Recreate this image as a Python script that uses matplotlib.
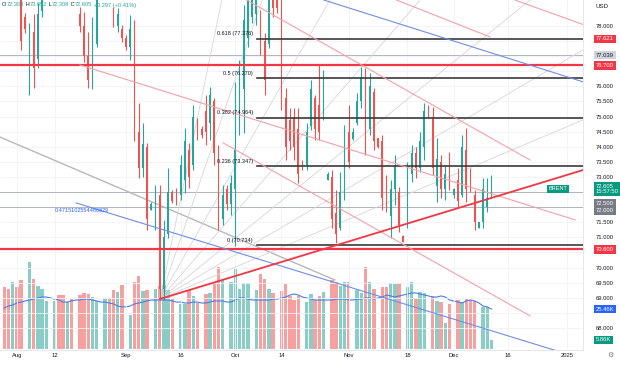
import numpy as np
import pandas as pd
import matplotlib
matplotlib.use("Agg")
import matplotlib.pyplot as plt
import matplotlib.transforms as mtransforms

# daily bars (Mon-Fri plus the short Sunday session), 29 Jul - 11 Dec 2024
days = pd.date_range("2024-07-29", "2025-01-05", freq="D")
days = days[days.dayofweek != 5]

opens = [80.6, 79.8, 79.2, 80.7, 79.6, 78.3,
         76.6, 77.8, 76.9, 78.5, 79.1, 79.7,
         79.8, 81.9, 80.6, 79.7, 81.0, 79.6,
         78.4, 78.0, 77.0, 76.2, 77.4, 79.0,
         79.2, 81.2, 78.5, 78.0, 77.9, 77.6,
         77.3, 77.9, 74.5, 73.3, 74.0, 71.9,
         71.5, 72.4, 69.3, 71.1, 72.5, 72.4,
         72.4, 72.9, 73.9, 73.4, 74.8, 74.6,
         75.2, 74.8, 75.5, 73.8, 71.6, 72.6,
         72.1, 72.6, 74.6, 75.9, 77.6, 78.3,
         78.4, 78.4, 77.5, 77.4, 79.1, 78.9,
         78.6, 75.6, 74.9, 75.0, 74.6, 73.5,
         73.4, 74.7, 75.6, 75.4, 75.0, 72.9,
         73.0, 71.8, 71.3, 72.5, 74.5, 74.25,
         74.8, 75.5, 76.3, 74.6, 75.8, 74.3,
         74.2, 72.9, 71.7, 72.6, 72.5, 71.06,
         71.4, 73.1, 73.8, 73.3, 74.0, 75.3,
         75.0, 72.7, 73.5, 72.6, 73.4, 72.4,
         72.9, 72.4, 73.9, 73.1, 72.4, 71.32,
         71.5, 72.0, 72.308]
highs = [80.9, 80.0, 81.0, 81.2, 79.9, 78.42,
         78.1, 78.4, 78.76, 79.3, 80.0, 79.9,
         82.1, 82.0, 80.9, 81.3, 81.1, 79.7,
         78.63, 78.46, 77.8, 78.3, 79.2, 79.3,
         81.5, 81.4, 78.63, 78.6, 78.03, 77.7,
         78.36, 78.2, 75.45, 74.79, 74.13, 72.17,
         72.74, 72.74, 71.58, 73.3, 72.57, 72.64,
         73.73, 74.62, 74.13, 75.38, 74.95, 74.7,
         75.72, 75.98, 75.62, 74.06, 72.74, 72.74,
         73.07, 76.15, 76.87, 78.7, 79.2, 79.3,
         81.0, 78.53, 77.77, 79.5, 79.5, 79.0,
         78.95, 75.95, 75.28, 75.28, 75.28, 73.56,
         74.79, 76.21, 75.72, 76.71, 76.54, 73.17,
         73.23, 72.57, 73.17, 74.72, 75.39, 74.62,
         75.78, 76.64, 76.61, 76.44, 75.95, 74.3,
         74.39, 73.07, 72.9, 73.73, 72.67, 71.08,
         73.5, 74.06, 73.99, 74.49, 75.45, 75.39,
         75.32, 74.29, 73.73, 73.4, 73.83, 72.64,
         73.3, 74.39, 74.62, 73.3, 72.57, 71.51,
         72.97, 72.97, 73.052]
lows = [79.5, 79.0, 79.0, 79.3, 77.2, 77.77,
        75.7, 75.95, 76.6, 78.3, 78.95, 79.6,
        79.6, 80.3, 79.4, 79.3, 79.4, 79.3,
        77.8, 76.8, 75.95, 75.9, 77.3, 78.95,
        79.0, 79.3, 77.97, 77.8, 77.47, 77.2,
        76.87, 74.2, 72.97, 73.0, 71.25, 71.91,
        71.25, 68.93, 68.93, 70.98, 72.14, 72.07,
        72.24, 72.47, 72.64, 73.23, 74.23, 74.3,
        74.06, 74.23, 73.4, 71.25, 71.41, 71.91,
        71.74, 70.7, 74.4, 74.46, 77.3, 78.1,
        78.03, 77.04, 75.72, 77.27, 78.3, 78.43,
        75.22, 73.56, 73.89, 73.56, 72.8, 73.23,
        73.23, 74.56, 74.23, 74.23, 74.89, 72.9,
        71.31, 70.82, 71.25, 72.24, 73.3, 74.23,
        74.72, 75.28, 73.73, 74.39, 73.89, 73.96,
        71.91, 71.84, 70.98, 72.07, 71.18, 70.85,
        71.31, 72.83, 72.97, 73.17, 73.56, 74.95,
        73.07, 72.17, 72.3, 72.24, 72.57, 72.31,
        72.01, 72.34, 72.17, 72.5, 71.25, 71.31,
        71.31, 71.84, 72.308]
closes = [79.8, 79.2, 80.7, 79.6, 77.5, 77.9,
          77.2, 76.6, 78.4, 79.1, 79.7, 79.8,
          81.9, 80.6, 79.7, 81.0, 79.6, 79.4,
          78.0, 77.0, 76.2, 77.4, 79.0, 79.2,
          81.2, 79.6, 78.1, 78.4, 77.6, 77.3,
          77.9, 74.5, 73.3, 74.1, 71.6, 72.1,
          72.4, 69.3, 71.0, 72.5, 72.2, 72.2,
          73.4, 74.2, 73.0, 75.0, 74.4, 74.4,
          74.5, 75.7, 73.8, 71.6, 72.4, 72.1,
          72.8, 73.9, 76.0, 78.2, 78.9, 79.1,
          80.6, 77.3, 76.2, 79.1, 78.6, 78.6,
          75.6, 74.0, 74.2, 74.0, 73.1, 73.3,
          74.5, 75.9, 74.6, 74.5, 76.2, 73.1,
          71.6, 71.1, 72.5, 73.8, 73.5, 74.5,
          75.5, 76.3, 74.4, 76.0, 74.2, 74.0,
          72.3, 72.1, 72.6, 73.4, 71.4, 70.85,
          73.2, 73.8, 73.3, 74.2, 75.2, 74.99,
          73.3, 73.6, 72.6, 73.1, 72.8, 72.6,
          72.2, 74.0, 72.6, 72.6, 71.5, 71.5,
          72.6, 72.308, 72.605]
volume_k = [39.7, 38.4, 42.5, 39.7, 44.2, 0,
            55.6, 44.6, 40.3, 38.4, 30.4, 0,
            30.4, 34.2, 34.2, 29.7, 31.6, 0,
            34.6, 35.5, 35.0, 33.4, 30.8, 0,
            32.7, 32.7, 37.6, 36.1, 40.6, 0,
            21.9, 42.5, 46.5, 36.9, 37.6, 0,
            38.0, 40.3, 40.8, 37.6, 31.6, 0,
            28.5, 28.5, 37.4, 33.8, 29.5, 0,
            34.8, 35.9, 42.2, 52.4, 44.0, 0,
            42.5, 50.7, 38.0, 41.8, 41.8, 0,
            37.6, 47.6, 44.6, 38.0, 35.9, 0,
            36.9, 41.2, 33.8, 31.2, 33.8, 0,
            30.1, 35.0, 31.2, 33.8, 36.1, 0,
            44.0, 42.9, 40.1, 42.9, 42.9, 0,
            37.6, 35.5, 52.4, 42.9, 38.0, 0,
            39.5, 39.5, 41.8, 41.2, 41.8, 0,
            39.7, 42.9, 32.7, 36.1, 35.5, 0,
            33.8, 30.8, 29.7, 16.8, 28.5, 0,
            31.2, 30.1, 31.6, 31.2, 30.6, 0,
            27.0, 26.5, 5.86]
volume_ma = [26.1, 27.4, 28.0, 29.3, 29.9, 30.6,
             31.2, 31.8, 32.5, 33.1, 33.1, 32.5,
             31.8, 31.2, 29.9, 29.9, 30.6, 31.2,
             31.2, 31.8, 31.8, 31.2, 30.6, 29.9,
             29.9, 29.3, 28.7, 27.4, 26.8, 26.8,
             27.4, 28.7, 29.3, 29.9, 30.6, 31.2,
             31.2, 31.2, 31.2, 31.2, 30.6, 29.9,
             29.9, 29.3, 29.3, 29.9, 29.9, 29.3,
             29.3, 29.9, 30.6, 30.6, 30.6, 29.9,
             29.9, 31.2, 32.5, 32.5, 31.8, 31.2,
             31.2, 31.2, 31.2, 31.2, 31.8, 31.8,
             32.5, 33.1, 34.4, 35.0, 34.4, 33.1,
             32.5, 31.8, 31.2, 31.2, 31.2, 31.2,
             31.2, 31.8, 31.8, 31.8, 31.2, 31.2,
             31.8, 31.8, 32.5, 32.5, 31.8, 32.5,
             33.1, 34.4, 33.8, 33.1, 33.8, 34.4,
             35.0, 35.7, 35.7, 35.0, 34.4, 33.8,
             33.1, 33.1, 33.8, 33.1, 31.2, 30.6,
             29.9, 29.3, 30.6, 31.2, 30.6, 29.3,
             27.4, 26.8, 25.46]

# drawings, anchors as (bar index, price)
red_levels = [76.700, 70.600]
grey_levels = [77.039, 72.500, 72.000]
fib_names = ["0.618 (77.376)", "0.5 (76.270)", "0.382 (74.964)", "0.236 (73.347)", "0 (70.734)"]
fib_prices = [77.58, 76.270, 74.964, 73.347, 70.734]
fib_start = 60.2
pink_lines = [[(18.0, 76.71), (135.9, 71.58)],
              [(57.7, 78.86), (125.2, 73.56)],
              [(52.1, 74.13), (125.2, 68.40)],
              [(93.4, 78.86), (115.6, 77.64)],
              [(121.6, 78.86), (137.8, 78.05)]]
blue_lines = [[(76.1, 78.86), (137.8, 76.15)],
              [(17.1, 72.14), (132.3, 67.21)]]
grey_lines = [[(-1.0, 74.32), (78.7, 69.59)]]
red_trend = [(37.07, 68.96), (137.8, 73.23)]
fan_origin = (37.07, 68.96)
fan_ends = [(51.8, 78.86), (61.4, 78.86), (77.5, 78.86), (99.0, 78.86),
            (125.2, 78.86), (137.8, 77.21), (137.8, 74.89)]

tick_dates = ["2024-08-01", "2024-08-12", "2024-09-01", "2024-09-16", "2024-10-01",
              "2024-10-14", "2024-11-01", "2024-11-18", "2024-12-01", "2024-12-16", "2025-01-01"]
tick_names = ["Aug", "12", "Sep", "16", "Oct", "14", "Nov", "18", "Dec", "16", "2025"]
price_ticks = np.arange(68.0, 78.01, 0.5)
hidden_ticks = [68.5, 70.5, 72.0, 72.5, 76.5, 77.0, 77.5]   # sit under the coloured tags

UP = "#26a69a"
DOWN = "#ef5350"
TXT = "#131722"
plt.rcParams["font.family"] = ["Liberation Sans", "DejaVu Sans"]

n = len(closes)
x = np.arange(n)
o = np.array(opens); c = np.array(closes); h = np.array(highs); l = np.array(lows)
cols = np.where(c >= o, UP, DOWN)

fig = plt.figure(figsize=(6.2, 3.65), dpi=100)
rect = [0, 15 / 365, 583 / 620, 350 / 365]
vax = fig.add_axes(rect)
ax = fig.add_axes(rect)
vax.set_zorder(0)
ax.set_zorder(1)
ax.patch.set_alpha(0)

xlim = (-1.024, 137.79)

# volume
vax.bar(x, volume_k, width=0.8, color=cols, alpha=0.55, linewidth=0)
vax.plot(x, volume_ma, color="#4a7de8", lw=0.8)
vax.set_xlim(xlim)
vax.set_ylim(-0.64, 222.3)
vax.axis("off")

# candles
ax.vlines(x, l, h, colors=cols, lw=0.8, zorder=3)
ax.bar(x, np.maximum(np.abs(c - o), 0.03), bottom=np.minimum(o, c), width=0.45,
       color=cols, linewidth=0, zorder=3)

ax.set_xlim(xlim)
ax.set_ylim(67.27, 78.861)

# drawings
for lv in red_levels:
    ax.axhline(lv, color="#f23645", lw=1.6, zorder=4)
for lv in grey_levels:
    ax.axhline(lv, color="#b2b5be", lw=0.7, zorder=2)
for name, p in zip(fib_names, fib_prices):
    ax.plot([fib_start, xlim[1]], [p, p], color="#3a3a3a", lw=1.2, zorder=4)
    ax.text(fib_start - 1.0, p + 0.09, name, ha="right", va="bottom", fontsize=4, color=TXT, zorder=5)
for (a, b) in pink_lines:
    ax.plot([a[0], b[0]], [a[1], b[1]], color="#f5a0a6", lw=0.8, zorder=4)
for (a, b) in blue_lines:
    ax.plot([a[0], b[0]], [a[1], b[1]], color="#6f8fe6", lw=0.8, zorder=4)
for (a, b) in grey_lines:
    ax.plot([a[0], b[0]], [a[1], b[1]], color="#b8b8b8", lw=1.0, zorder=2)
for e in fan_ends:
    ax.plot([fan_origin[0], e[0]], [fan_origin[1], e[1]], color="#d6d6d6", lw=0.6, zorder=2)
ax.plot([red_trend[0][0], red_trend[1][0]], [red_trend[0][1], red_trend[1][1]],
        color="#f23645", lw=1.3, zorder=4)
ax.text(12.0, 71.85, "0.4715102554486829", color="#2962ff", fontsize=4, zorder=5)

# axes styling
ax.yaxis.tick_right()
ax.set_yticks(price_ticks)
ax.set_yticklabels(["" if round(v, 1) in hidden_ticks else "%.3f" % v for v in price_ticks])
tick_pos = [list(days).index(pd.Timestamp(d)) for d in tick_dates]
ax.set_xticks(tick_pos)
ax.set_xticklabels(tick_names)
ax.tick_params(axis="y", length=0, pad=9.4, labelsize=4.2, labelcolor=TXT)
ax.tick_params(axis="x", length=0, pad=2.5, labelsize=4.2, labelcolor=TXT)
ax.grid(color="#f0f3fa", lw=0.6, zorder=0)
for s in ["top", "left"]:
    ax.spines[s].set_visible(False)
for s in ["right", "bottom"]:
    ax.spines[s].set_color("#e0e3eb")
    ax.spines[s].set_linewidth(0.6)

# price scale labels
lab = mtransforms.blended_transform_factory(ax.transAxes, ax.transData)
vlab = mtransforms.blended_transform_factory(ax.transAxes, vax.transData)
def tag(y, s, fc, tc="white", tr=lab, xpos=596 / 583):
    ax.text(xpos, y, s, transform=tr, ha="left", va="center", fontsize=4.2, color=tc,
            clip_on=False, zorder=10,
            bbox=dict(boxstyle="square,pad=0.3", fc=fc, ec="none"))

tag(77.57, "77.621", "#f23645")
tag(77.039, "77.039", "#d1d4dc", tc=TXT)
tag(76.70, "76.700", "#f23645")
tag(72.13, "72.500", "#787b86")
tag(71.88, "72.000", "#787b86")
tag(72.60, "72.605\n15:57:50", "#089981")
tag(70.60, "70.600", "#f23645")
tag(25.46, "25.46K", "#2962ff", tr=vlab)
tag(5.86, "5.86K", "#089981", tr=vlab)
ax.text(558 / 583, 72.605, "BRENT", transform=lab, ha="center", va="center", fontsize=4,
        color="white", zorder=10, bbox=dict(boxstyle="square,pad=0.3", fc="#089981", ec="none"))
fig.text(596 / 620, 1 - 6 / 365, "USD", ha="left", va="center", fontsize=4.4, color=TXT)
fig.text(610 / 620, 10 / 365, "\u2699", ha="center", va="center", fontsize=5, color="#787b86")

# OHLC header
hdr = [("O", TXT), ("72.308", UP), (" H", TXT), ("73.052", UP), (" L", TXT), ("72.308", UP),
       (" C", TXT), ("72.605", UP), (" +0.297 (+0.41%)", UP)]
xp = 2 / 620
for s, col in hdr:
    t = fig.text(xp, 1 - 5 / 365, s, ha="left", va="center", fontsize=4.1, color=col)
    fig.canvas.draw()
    xp += t.get_window_extent().width / 620

fig.savefig("out.png", dpi=100, facecolor="white")
